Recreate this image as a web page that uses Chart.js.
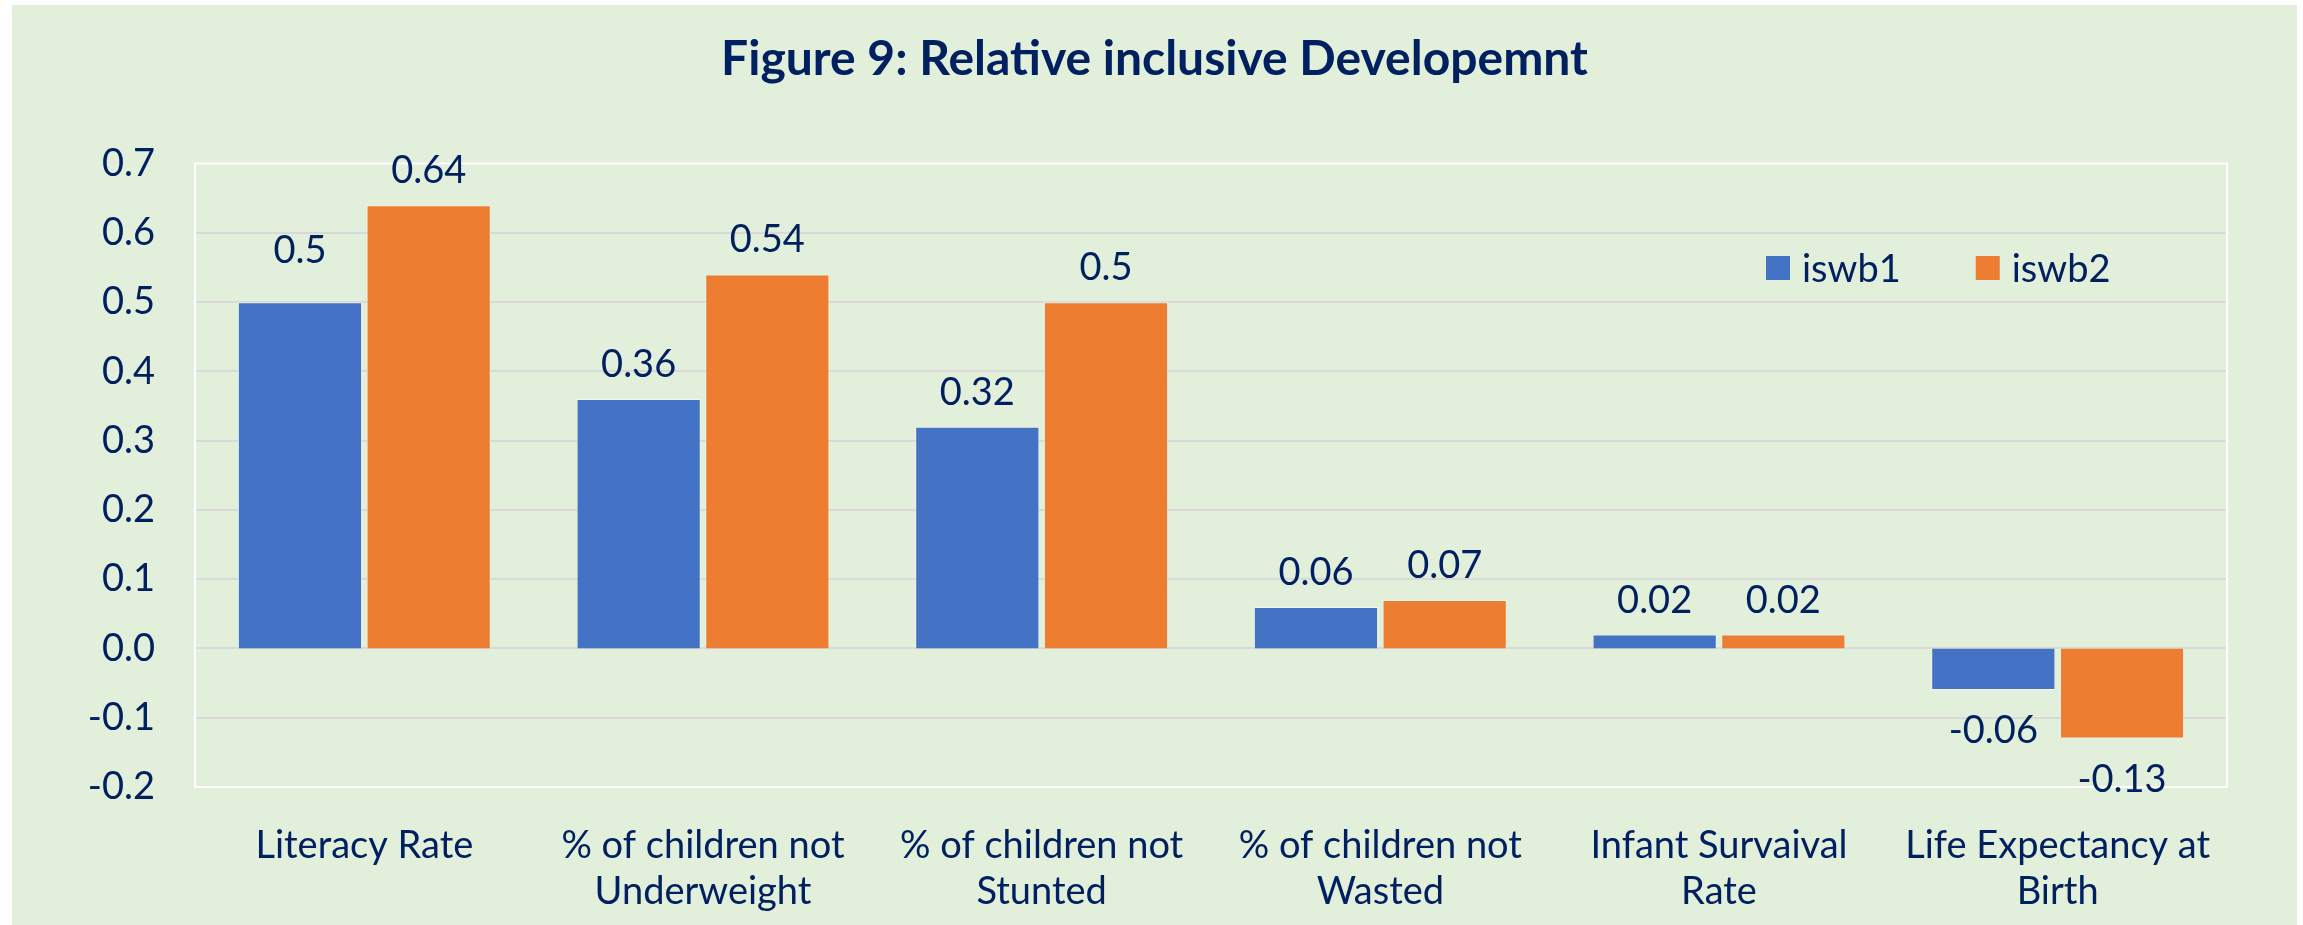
<!DOCTYPE html>
<html>
<head>
<meta charset="utf-8">
<title>Relative inclusive Development</title>
<script src="https://cdn.jsdelivr.net/npm/chart.js@4.4.1/dist/chart.umd.min.js"></script>
<style>
  body { margin: 0; background: #fff; }
  #wrap {
    position: absolute;
    left: 12px;
    top: 5px;
    width: 2285px;
    height: 920px;
    background: #E2EFDA;
  }
</style>
</head>
<body>
<div id="wrap"><canvas id="myChart" width="2285" height="920"></canvas></div>
<script>
// Chart data
const categories = [
  ["Literacy Rate"],
  ["% of children not", "Underweight"],
  ["% of children not", "Stunted"],
  ["% of children not", "Wasted"],
  ["Infant Survaival", "Rate"],
  ["Life Expectancy at", "Birth"]
];
const iswb1 = [0.5, 0.36, 0.32, 0.06, 0.02, -0.06];
const iswb2 = [0.64, 0.54, 0.5, 0.07, 0.02, -0.13];
const seriesNames = ["iswb1", "iswb2"];
const yMin = -0.2;
const yMax = 0.7;
const yStep = 0.1;

const navy = "#002060";
const fontFamily = "Lato, 'Open Sans', sans-serif";

// value labels above / below each bar
const valueLabels = {
  id: "valueLabels",
  afterDatasetsDraw(chart) {
    const { ctx } = chart;
    ctx.save();
    ctx.font = `38px ${fontFamily}`;
    ctx.fillStyle = navy;
    ctx.textAlign = "center";
    ctx.textBaseline = "alphabetic";
    chart.data.datasets.forEach((ds, di) => {
      const meta = chart.getDatasetMeta(di);
      meta.data.forEach((bar, i) => {
        const v = ds.data[i];
        let y;
        if (v >= 0) {
          // the first literacy label sits a bit higher
          const lift = (di === 0 && i === 0) ? 39 : 22;
          y = bar.y - lift;
        } else {
          y = bar.y + 53;
        }
        ctx.fillText(String(v), bar.x, y);
      });
    });
    ctx.restore();
  }
};

// white frame around the plot area, drawn over the grid
const plotFrame = {
  id: "plotFrame",
  beforeDatasetsDraw(chart) {
    const { ctx, chartArea: a } = chart;
    ctx.save();
    ctx.strokeStyle = "#ffffff";
    ctx.lineWidth = 2;
    ctx.strokeRect(a.left, a.top, a.right - a.left, a.bottom - a.top);
    ctx.restore();
  }
};

// legend drawn inside the plot area, top right
const innerLegend = {
  id: "innerLegend",
  afterDraw(chart) {
    const { ctx } = chart;
    ctx.save();
    ctx.font = `38px ${fontFamily}`;
    ctx.textBaseline = "middle";
    ctx.textAlign = "left";
    let x = 1754;
    const cy = 263;
    chart.data.datasets.forEach(ds => {
      ctx.fillStyle = ds.backgroundColor;
      ctx.fillRect(x, cy - 12, 24, 24);
      ctx.fillStyle = navy;
      ctx.fillText(ds.label, x + 36, cy + 2);
      x += 36 + ctx.measureText(ds.label).width + 75;
    });
    ctx.restore();
  }
};

const ctx = document.getElementById("myChart").getContext("2d");
new Chart(ctx, {
  type: "bar",
  data: {
    labels: categories,
    datasets: [
      {
        label: seriesNames[0],
        data: iswb1,
        backgroundColor: "#4472C4",
        borderColor: "rgba(255,255,255,0.45)",
        borderWidth: 1
      },
      {
        label: seriesNames[1],
        data: iswb2,
        backgroundColor: "#ED7D31",
        borderColor: "rgba(255,255,255,0.45)",
        borderWidth: 1
      }
    ]
  },
  options: {
    responsive: false,
    animation: false,
    categoryPercentage: 0.76,
    barPercentage: 0.965,
    layout: { padding: 0 },
    plugins: {
      legend: { display: false },
      tooltip: { enabled: false },
      title: {
        display: true,
        text: "Figure 9: Relative inclusive Developemnt",
        color: navy,
        font: { family: fontFamily, size: 48, weight: "bold", lineHeight: 1.2 },
        padding: { top: 26, bottom: 75 }
      }
    },
    scales: {
      x: {
        grid: { display: false, drawTicks: false },
        border: { display: false },
        ticks: {
          color: navy,
          padding: 36,
          maxRotation: 0,
          autoSkip: false,
          font: { family: fontFamily, size: 38, lineHeight: 1.21 }
        },
        afterFit(scale) { scale.height = 138; }
      },
      y: {
        min: yMin,
        max: yMax,
        grid: { color: "#D9D9D9", lineWidth: 2, drawTicks: false },
        border: { display: false },
        ticks: {
          stepSize: yStep,
          color: navy,
          padding: 40,
          font: { family: fontFamily, size: 38 },
          callback: v => (Math.abs(v) < 1e-9 ? 0 : v).toFixed(1)
        },
        afterFit(scale) { scale.width = 183; }
      },
      // empty right-hand strip, keeps the title centred on the whole canvas
      spacer: {
        type: "linear",
        position: "right",
        grid: { display: false, drawTicks: false },
        border: { display: false },
        ticks: { display: false },
        afterFit(scale) { scale.width = 70; }
      }
    }
  },
  plugins: [plotFrame, valueLabels, innerLegend]
});
</script>
</body>
</html>
